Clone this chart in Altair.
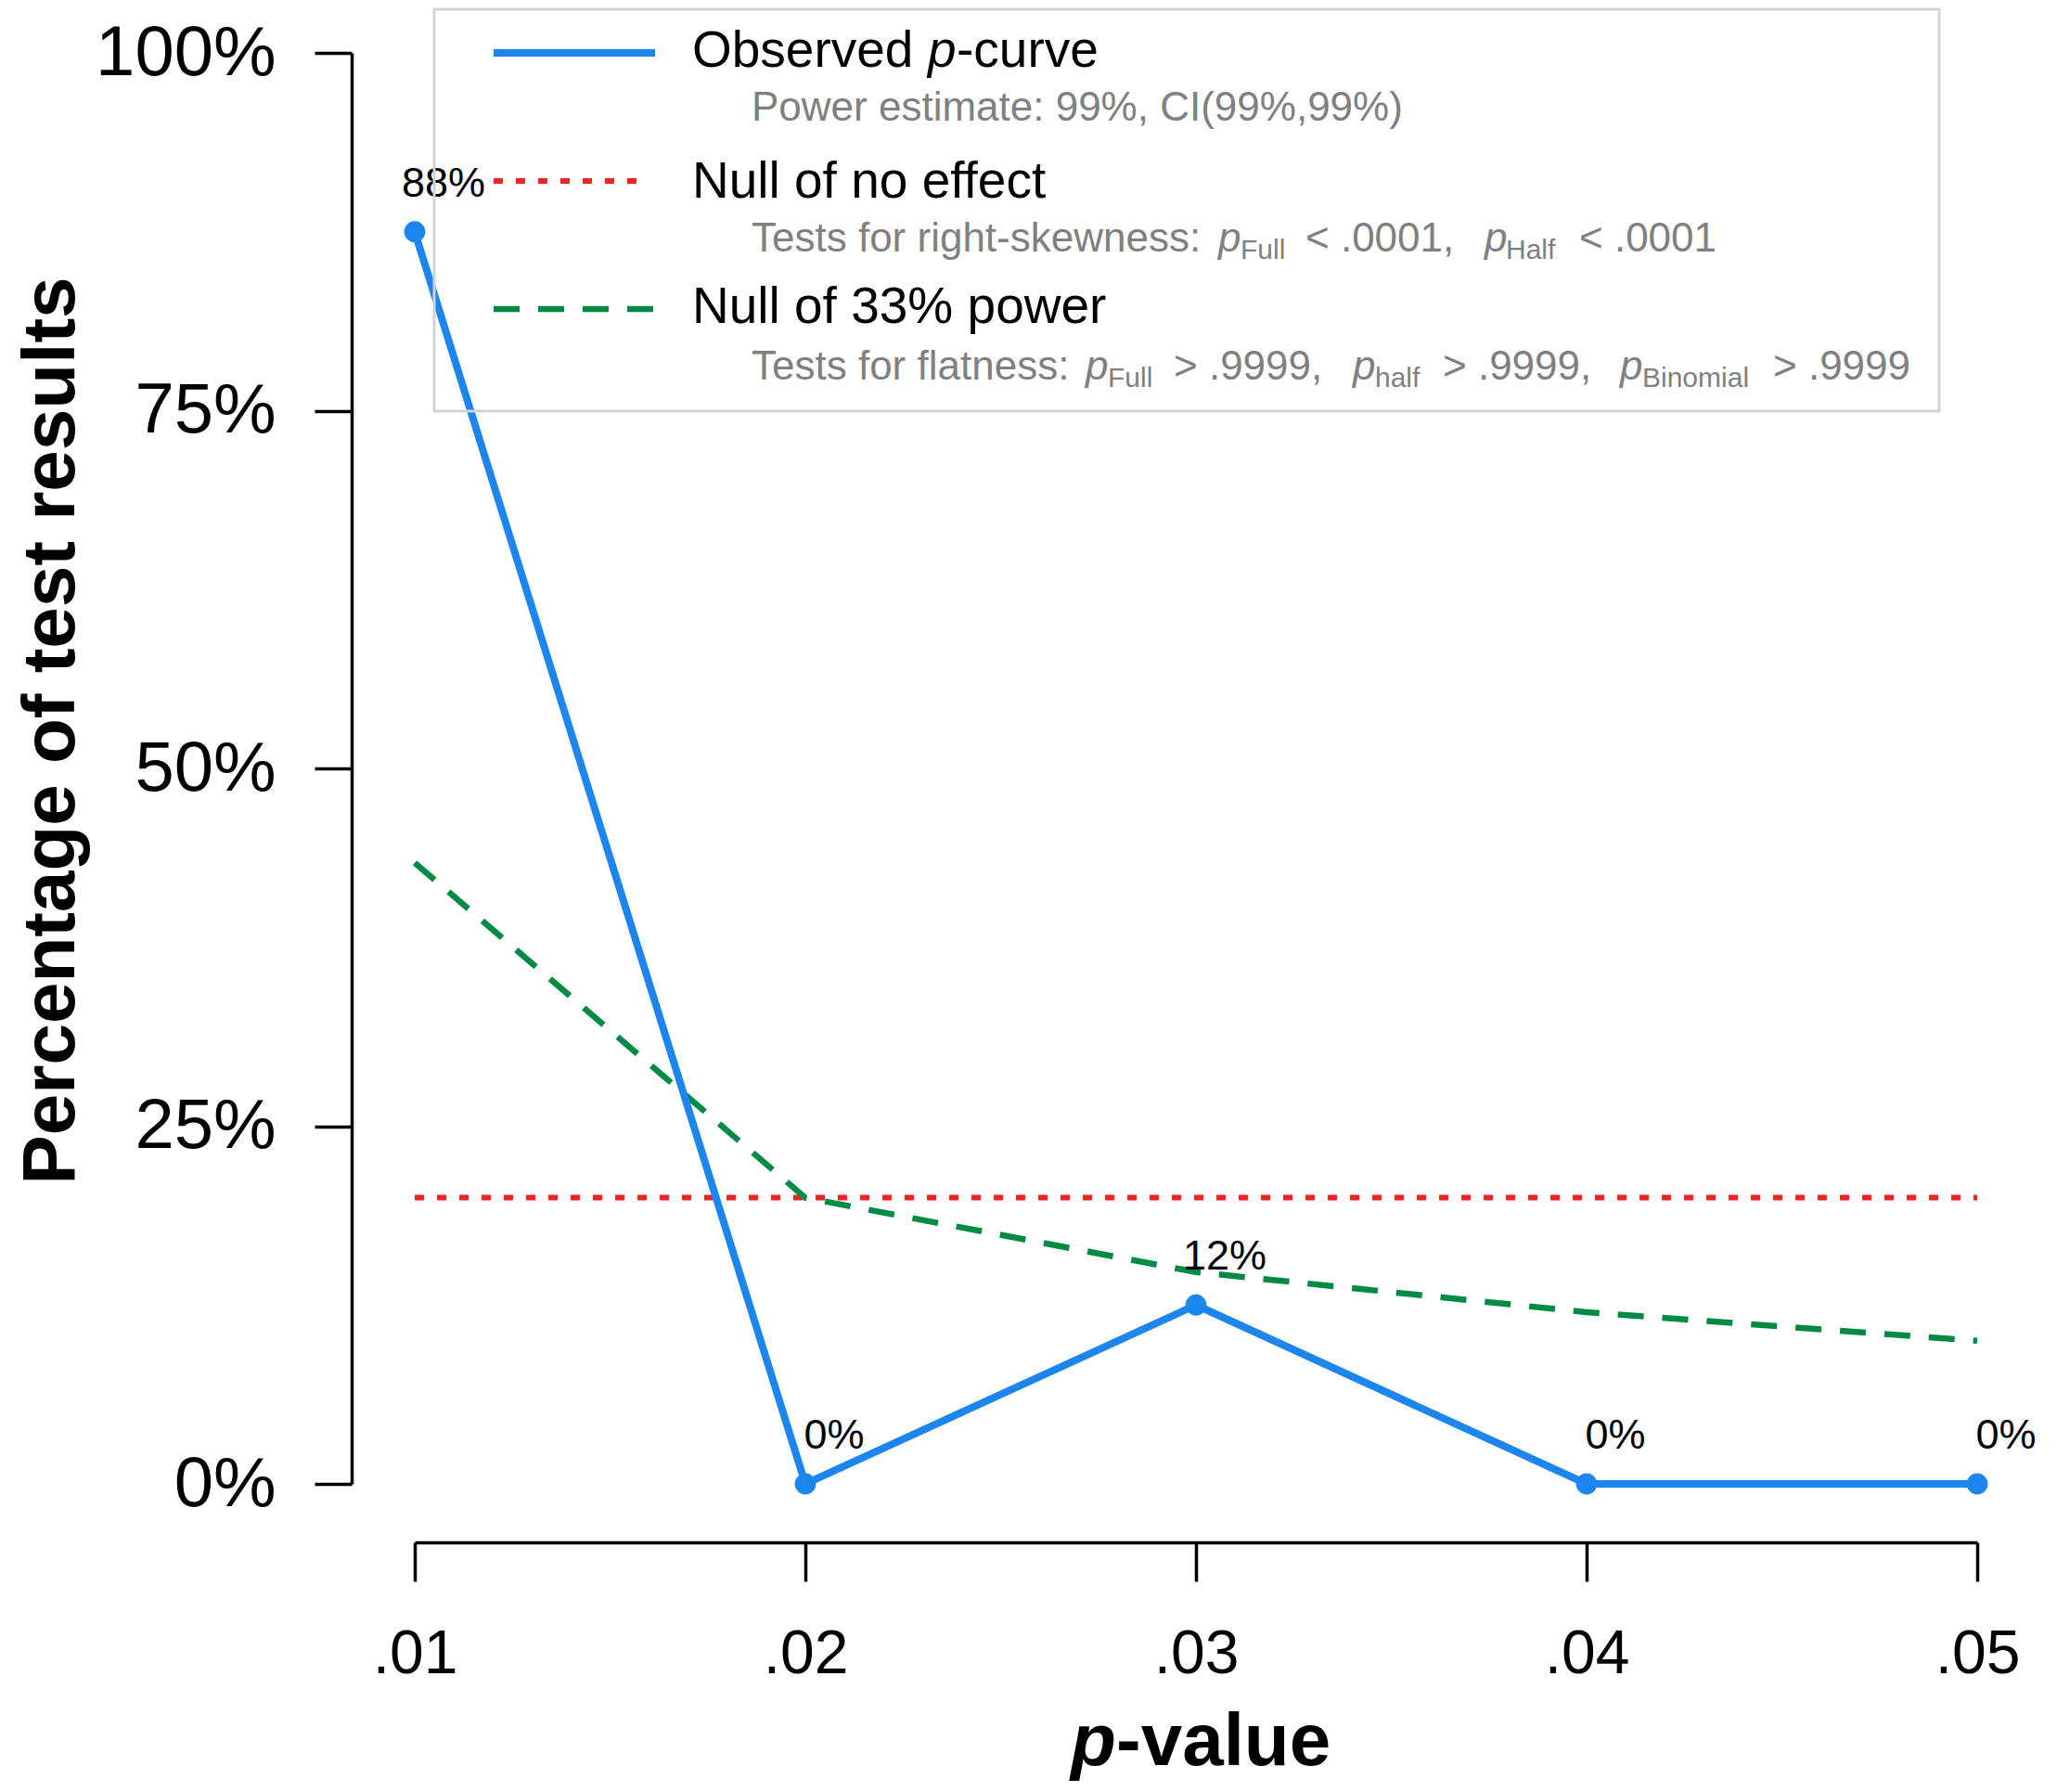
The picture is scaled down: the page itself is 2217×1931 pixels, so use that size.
import json
import altair as alt
import pandas as pd

# ---------------- data ----------------
p_values = [0.01, 0.02, 0.03, 0.04, 0.05]
observed = [0.875, 0.0, 0.125, 0.0, 0.0]
observed_labels = ["88%", "0%", "12%", "0%", "0%"]
null_no_effect = [0.20, 0.20, 0.20, 0.20, 0.20]
null_33_power = [0.434, 0.200, 0.148, 0.120, 0.100]

x_tick_labels = [".01", ".02", ".03", ".04", ".05"]
y_tick_values = [0.0, 0.25, 0.50, 0.75, 1.0]
y_tick_labels = ["0%", "25%", "50%", "75%", "100%"]

y_title = "Percentage of test results"
x_title = ["p", "-value"]

legend_main = [["Observed ", "p", "-curve"], ["Null of no effect"], ["Null of 33% power"]]
legend_power = "Power estimate: 99%, CI(99%,99%)"
legend_skew = ["Tests for right-skewness:", "p", "Full", "< .0001,", "p", "Half", "< .0001"]
legend_flat = ["Tests for flatness:", "p", "Full", "> .9999,", "p", "half", "> .9999,",
               "p", "Binomial", "> .9999"]

# ---------------- style / layout ----------------
FONT = "Liberation Sans"
BLUE = "#1C86EE"
RED = "#EE2424"
GREEN = "#008B45"
GRAY = "#808080"
W, H = 1684, 1542

df = pd.DataFrame({
    "p": p_values,
    "observed": observed,
    "label": observed_labels,
    "null0": null_no_effect,
    "null33": null_33_power,
})

x_scale = alt.Scale(domain=[0.01, 0.05], nice=False, zero=False)
y_scale = alt.Scale(domain=[0, 1], nice=False, zero=True)

x_axis = alt.Axis(
    values=p_values,
    labelExpr=json.dumps(x_tick_labels).replace('"', "'") + "[round(datum.value*100)-1]",
    title="", grid=False, offset=63,
    domainColor="black", domainWidth=3.5, tickColor="black", tickWidth=3.5, tickSize=42,
    labelFont=FONT, labelFontSize=66, labelColor="black", labelPadding=46,
    labelFlush=False, labelOverlap=False, labelLimit=500,
)
y_axis = alt.Axis(
    values=y_tick_values,
    labelExpr=json.dumps(y_tick_labels).replace('"', "'") + "[round(datum.value*4)]",
    title=y_title, titleFont=FONT, titleFontSize=80, titleFontWeight="bold",
    titleColor="black", titleAngle=270, titleX=-300, titleY=730,
    titleBaseline="alphabetic", titleAlign="center", titleLimit=2000,
    grid=False, offset=68,
    domainColor="black", domainWidth=3.5, tickColor="black", tickWidth=3.5, tickSize=40,
    labelFont=FONT, labelFontSize=76, labelColor="black", labelPadding=42,
    labelFlush=False, labelOverlap=False, labelLimit=500,
)

base = alt.Chart(df)
X = alt.X("p:Q", scale=x_scale, axis=x_axis)


def Y(field):
    return alt.Y(f"{field}:Q", scale=y_scale, axis=y_axis)


red_line = base.mark_line(color=RED, strokeWidth=6, strokeDash=[10, 14]).encode(x=X, y=Y("null0"))
green_line = base.mark_line(color=GREEN, strokeWidth=6.5, strokeDash=[28, 20]).encode(x=X, y=Y("null33"))
blue_line = base.mark_line(color=BLUE, strokeWidth=8).encode(x=X, y=Y("observed"))
blue_pts = base.mark_circle(color=BLUE, size=520, opacity=1).encode(x=X, y=Y("observed"))
pt_labels = base.mark_text(
    font=FONT, fontSize=45, color="black", dx=31, dy=-38, align="center", baseline="alphabetic"
).encode(x=X, y=Y("observed"), text="label:N")


def txt(s, x, y, size, color="black", style="normal", weight="normal"):
    return alt.Chart(pd.DataFrame({"t": [s]})).mark_text(
        align="left", baseline="alphabetic", font=FONT, fontSize=size, color=color,
        fontStyle=style, fontWeight=weight,
    ).encode(x=alt.value(x), y=alt.value(y), text="t:N")


one = pd.DataFrame({"k": [0]})

legend_box = alt.Chart(one).mark_rect(filled=False, stroke="#D3D3D3", strokeWidth=3).encode(
    x=alt.value(21), x2=alt.value(1643), y=alt.value(-47), y2=alt.value(386)
)
leg_blue = alt.Chart(one).mark_rule(color=BLUE, strokeWidth=8).encode(
    x=alt.value(85), x2=alt.value(259), y=alt.value(0))
leg_red = alt.Chart(one).mark_rule(color=RED, strokeWidth=6, strokeDash=[10, 14]).encode(
    x=alt.value(85), x2=alt.value(242), y=alt.value(138))
leg_green = alt.Chart(one).mark_rule(color=GREEN, strokeWidth=6.5, strokeDash=[28, 20]).encode(
    x=alt.value(85), x2=alt.value(259), y=alt.value(276))

texts = []
# entry 1
texts.append(txt(legend_main[0][0], 299, 15, 55))
texts.append(txt(legend_main[0][1], 553, 15, 55, style="italic"))
texts.append(txt(legend_main[0][2], 584, 15, 55))
texts.append(txt(legend_power, 363, 73, 44, GRAY))
# entry 2
texts.append(txt(legend_main[1][0], 299, 156, 55))
skew_x = [363, 866, 890, 960, 1153, 1176, 1255]
for i, (s, xx) in enumerate(zip(legend_skew, skew_x)):
    if s == "p":
        texts.append(txt(s, xx, 214, 44, GRAY, style="italic"))
    elif i in (2, 5):
        texts.append(txt(s, xx, 222, 30, GRAY))
    else:
        texts.append(txt(s, xx, 214, 44, GRAY))
# entry 3
texts.append(txt(legend_main[2][0], 299, 291, 55))
flat_x = [363, 723, 747, 818, 1011, 1035, 1108, 1299, 1323, 1464]
for i, (s, xx) in enumerate(zip(legend_flat, flat_x)):
    if s == "p":
        texts.append(txt(s, xx, 352, 44, GRAY, style="italic"))
    elif i in (2, 5, 8):
        texts.append(txt(s, xx, 360, 30, GRAY))
    else:
        texts.append(txt(s, xx, 352, 44, GRAY))

# x-axis title with italic p
texts.append(txt(x_title[0], 707, 1845, 80, style="italic", weight="bold"))
texts.append(txt(x_title[1], 756, 1845, 80, weight="bold"))

chart = alt.layer(
    red_line, green_line, blue_line, blue_pts, pt_labels,
    legend_box, leg_blue, leg_red, leg_green, *texts
).properties(
    width=W, height=H,
    autosize=alt.AutoSizeParams(type="none"),
    padding={"left": 439, "top": 49, "right": 70, "bottom": 324},
    background="white",
).configure_view(stroke=None)

chart.save("out.html", embed_options={"renderer": "svg", "actions": False})
